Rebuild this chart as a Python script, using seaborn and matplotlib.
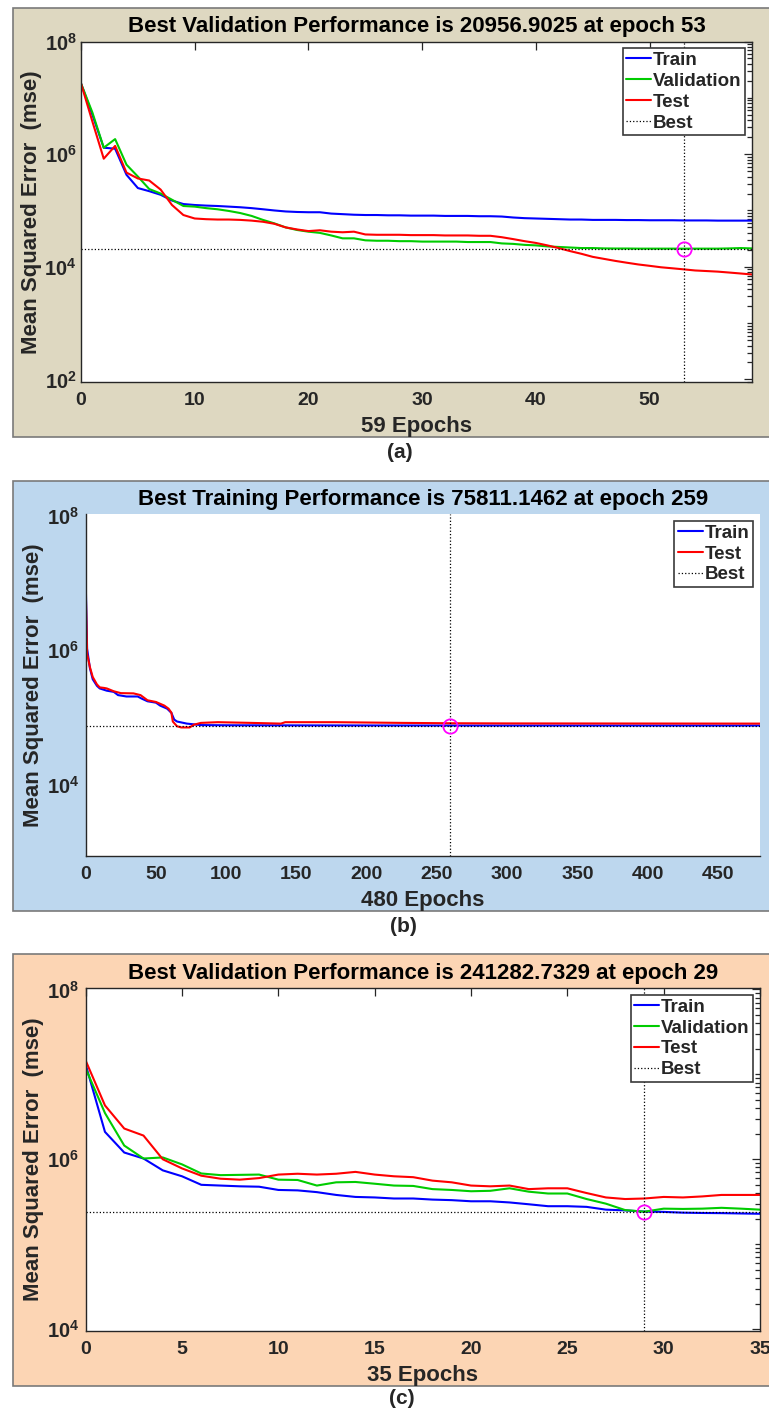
import numpy as np
import matplotlib
matplotlib.use("Agg")
import matplotlib.pyplot as plt
import seaborn as sns
from matplotlib.patches import Rectangle
from matplotlib.lines import Line2D
from matplotlib.ticker import FixedLocator, FuncFormatter, NullFormatter

sns.set_style("white")
plt.rcParams["font.family"] = ["Liberation Sans", "DejaVu Sans"]
plt.rcParams["font.weight"] = "bold"
plt.rcParams["mathtext.fontset"] = "custom"
plt.rcParams["mathtext.rm"] = "Liberation Sans:bold"
plt.rcParams["mathtext.bf"] = "Liberation Sans:bold"
plt.rcParams["mathtext.it"] = "Liberation Sans:bold"

# ---------------- panel (a): 59 epochs, validation stop ----------------
a_epochs = list(range(60))
a_train = [1.8e7, 5.0e6, 1.3e6, 1.25e6, 4.3e5, 2.5e5, 2.2e5, 1.9e5, 1.5e5, 1.3e5,
           1.25e5, 1.22e5, 1.2e5, 1.17e5, 1.14e5, 1.1e5, 1.05e5, 1.0e5, 9.6e4, 9.4e4,
           9.3e4, 9.3e4, 8.8e4, 8.6e4, 8.4e4, 8.3e4, 8.3e4, 8.2e4, 8.2e4, 8.1e4,
           8.1e4, 8.1e4, 8.0e4, 8.0e4, 8.0e4, 7.9e4, 7.9e4, 7.8e4, 7.5e4, 7.3e4,
           7.2e4, 7.1e4, 7.0e4, 6.9e4, 6.9e4, 6.8e4, 6.8e4, 6.8e4, 6.75e4, 6.75e4,
           6.7e4, 6.7e4, 6.7e4, 6.65e4, 6.65e4, 6.65e4, 6.6e4, 6.6e4, 6.6e4, 6.6e4]
a_valid = [1.8e7, 5.5e6, 1.3e6, 1.85e6, 6.5e5, 4.0e5, 2.4e5, 2.0e5, 1.55e5, 1.2e5,
           1.17e5, 1.1e5, 1.05e5, 9.8e4, 9.0e4, 8.0e4, 6.8e4, 5.9e4, 5.0e4, 4.5e4,
           4.2e4, 4.0e4, 3.6e4, 3.2e4, 3.2e4, 2.95e4, 2.9e4, 2.9e4, 2.85e4, 2.85e4,
           2.8e4, 2.8e4, 2.8e4, 2.8e4, 2.75e4, 2.75e4, 2.75e4, 2.6e4, 2.55e4, 2.45e4,
           2.4e4, 2.3e4, 2.25e4, 2.2e4, 2.15e4, 2.15e4, 2.12e4, 2.11e4, 2.11e4, 2.1e4,
           2.1e4, 2.1e4, 2.1e4, 20956.9025, 2.1e4, 2.1e4, 2.1e4, 2.12e4, 2.15e4, 2.12e4]
a_test = [1.8e7, 3.8e6, 8.3e5, 1.4e6, 4.7e5, 3.7e5, 3.4e5, 2.35e5, 1.25e5, 8.3e4,
          7.2e4, 7.0e4, 6.9e4, 6.9e4, 6.8e4, 6.6e4, 6.3e4, 5.8e4, 5.0e4, 4.6e4,
          4.3e4, 4.45e4, 4.2e4, 4.1e4, 4.2e4, 3.75e4, 3.7e4, 3.7e4, 3.7e4, 3.65e4,
          3.65e4, 3.65e4, 3.6e4, 3.6e4, 3.6e4, 3.55e4, 3.55e4, 3.35e4, 3.1e4, 2.85e4,
          2.65e4, 2.4e4, 2.15e4, 1.9e4, 1.7e4, 1.5e4, 1.38e4, 1.27e4, 1.18e4, 1.1e4,
          1.04e4, 9.8e3, 9.4e3, 9.0e3, 8.6e3, 8.4e3, 8.2e3, 7.9e3, 7.6e3, 7.3e3]
a_best_epoch = 53
a_best_value = 20956.9025
a_title = "Best Validation Performance is 20956.9025 at epoch 53"
a_xlabel = "59 Epochs"
a_xticks = [0, 10, 20, 30, 40, 50]
a_yticks = [1e2, 1e4, 1e6, 1e8]

# ---------------- panel (b): 480 epochs, training goal ----------------
b_train_epochs = [0, 1, 3, 5, 8, 10, 15, 20, 23, 29, 37, 40, 44, 50, 53, 58, 61, 63,
                  65, 72, 82, 100, 150, 200, 259, 300, 480]
b_train = [1.07e7, 1.05e6, 5.4e5, 3.7e5, 2.95e5, 2.7e5, 2.5e5, 2.4e5, 2.15e5, 2.05e5,
           2.05e5, 1.9e5, 1.74e5, 1.66e5, 1.5e5, 1.35e5, 1.17e5, 9.3e4, 8.7e4, 8.1e4,
           7.7e4, 7.65e4, 7.62e4, 7.6e4, 75811.1462, 75811.2, 75811.3]
b_test_epochs = [0, 1, 3, 5, 8, 10, 13, 15, 20, 25, 34, 39, 44, 50, 56, 59, 61, 62,
                 65, 68, 74, 77, 82, 94, 118, 139, 142, 178, 225, 259, 300, 480]
b_test = [8.3e6, 8.9e5, 5.6e5, 4.0e5, 3.1e5, 2.8e5, 2.75e5, 2.7e5, 2.45e5, 2.3e5,
          2.28e5, 2.15e5, 1.8e5, 1.7e5, 1.5e5, 1.35e5, 1.18e5, 8.7e4, 7.4e4, 7.1e4,
          7.1e4, 7.8e4, 8.3e4, 8.5e4, 8.3e4, 8.1e4, 8.5e4, 8.5e4, 8.3e4, 8.2e4,
          8.15e4, 8.1e4]
b_best_epoch = 259
b_best_value = 75811.1462
b_title = "Best Training Performance is 75811.1462 at epoch 259"
b_xlabel = "480 Epochs"
b_xticks = [0, 50, 100, 150, 200, 250, 300, 350, 400, 450]
b_yticks = [1e4, 1e6, 1e8]

# ---------------- panel (c): 35 epochs, validation stop ----------------
c_epochs = list(range(36))
c_train = [1.3e7, 2.1e6, 1.2e6, 1.02e6, 7.4e5, 6.3e5, 5.0e5, 4.9e5, 4.8e5, 4.75e5,
           4.35e5, 4.3e5, 4.1e5, 3.8e5, 3.6e5, 3.55e5, 3.45e5, 3.45e5, 3.35e5, 3.3e5,
           3.2e5, 3.2e5, 3.1e5, 2.95e5, 2.8e5, 2.8e5, 2.75e5, 2.55e5, 2.5e5, 2.42e5,
           2.4e5, 2.35e5, 2.33e5, 2.32e5, 2.3e5, 2.28e5]
c_valid = [1.17e7, 3.5e6, 1.45e6, 1.02e6, 1.05e6, 8.7e5, 6.8e5, 6.5e5, 6.55e5, 6.6e5,
           5.75e5, 5.7e5, 4.9e5, 5.35e5, 5.4e5, 5.15e5, 4.9e5, 4.85e5, 4.45e5, 4.35e5,
           4.2e5, 4.25e5, 4.55e5, 4.15e5, 3.95e5, 3.95e5, 3.4e5, 3.0e5, 2.52e5, 241282.7329,
           2.62e5, 2.6e5, 2.62e5, 2.68e5, 2.62e5, 2.55e5]
c_test = [1.45e7, 4.3e6, 2.3e6, 1.9e6, 1.0e6, 7.8e5, 6.4e5, 5.9e5, 5.75e5, 6.0e5,
          6.6e5, 6.75e5, 6.6e5, 6.75e5, 7.1e5, 6.6e5, 6.3e5, 6.15e5, 5.6e5, 5.35e5,
          4.9e5, 4.8e5, 4.9e5, 4.45e5, 4.55e5, 4.55e5, 4.0e5, 3.55e5, 3.4e5, 3.45e5,
          3.6e5, 3.55e5, 3.65e5, 3.8e5, 3.8e5, 3.8e5]
c_best_epoch = 29
c_best_value = 241282.7329
c_title = "Best Validation Performance is 241282.7329 at epoch 29"
c_xlabel = "35 Epochs"
c_xticks = [0, 5, 10, 15, 20, 25, 30, 35]
c_yticks = [1e4, 1e6, 1e8]

series_colors = {"Train": "#0000ff", "Validation": "#00cc00", "Test": "#ff0000"}
ink = "#262626"

W, H = 769, 1409
fig = plt.figure(figsize=(W / 100, H / 100), dpi=100)


def fx(px):
    return px / W


def fy(py):
    return 1 - py / H


def panel_background(top, bottom, color):
    fig.patches.append(Rectangle((fx(13), fy(bottom)), fx(W + 20 - 13), (bottom - top) / H,
                                 transform=fig.transFigure, facecolor=color,
                                 edgecolor="#7a7a7a", linewidth=1.2, zorder=-5))


def log_axis_ticks(ax, ylim, majors):
    lo, hi = int(np.floor(np.log10(ylim[0]))), int(np.ceil(np.log10(ylim[1])))
    minors = [m * 10.0 ** k for k in range(lo, hi + 1) for m in range(1, 10)]
    minors = [v for v in minors if ylim[0] <= v <= ylim[1] and v not in majors]
    ax.yaxis.set_major_locator(FixedLocator(majors))
    ax.yaxis.set_minor_locator(FixedLocator(minors))
    ax.yaxis.set_major_formatter(
        FuncFormatter(lambda v, p: r"$\mathbf{10^{%d}}$" % int(round(np.log10(v)))))
    ax.yaxis.set_minor_formatter(NullFormatter())


def draw_panel(rect, curves, best_epoch, best_value, title, xlabel, xticks, xmax,
               yticks, ylim, boxed, ypad):
    ax = fig.add_axes(rect)
    ax.set_zorder(1)
    ax.set_facecolor("white")
    ax.set_yscale("log")
    for name, xs, ys in curves:
        sns.lineplot(x=xs, y=ys, ax=ax, color=series_colors[name], linewidth=1.5,
                     estimator=None, sort=False, label=name, legend=False)
    ax.axhline(best_value, color="black", linestyle=":", linewidth=0.9)
    ax.axvline(best_epoch, color="black", linestyle=":", linewidth=0.9)
    ax.plot([best_epoch], [best_value], marker="o", markersize=10.3,
            markerfacecolor="none", markeredgecolor="#ff00ff", markeredgewidth=1.3)
    ax.set_xlim(0, xmax)
    ax.set_ylim(*ylim)
    ax.set_xticks(xticks)
    ax.set_xticklabels([str(t) for t in xticks])
    log_axis_ticks(ax, ylim, yticks)
    ax.tick_params(which="both", direction="in", colors=ink, labelcolor=ink,
                   top=boxed, right=boxed, width=0.9)
    ax.tick_params(which="major", length=6)
    ax.tick_params(axis="x", which="major", labelsize=14, pad=7.5)
    ax.tick_params(axis="y", which="major", labelsize=14.5, pad=ypad)
    ax.tick_params(which="minor", length=3.5)
    for side, sp in ax.spines.items():
        sp.set_color(ink)
        sp.set_linewidth(1.0)
        if side in ("top", "right"):
            sp.set_visible(boxed)
    ax.set_title(title, fontsize=16, fontweight="bold", color="black", pad=6.6)
    ax.set_xlabel(xlabel, fontsize=16, fontweight="bold", color=ink, labelpad=4.5)
    ax.set_ylabel("Mean Squared Error  (mse)", fontsize=16, fontweight="bold",
                  color=ink, labelpad=2)
    handles = [Line2D([], [], color=series_colors[n], linewidth=1.5) for n, _, _ in curves]
    labels = [n for n, _, _ in curves]
    handles.append(Line2D([], [], color="black", linestyle=":", linewidth=0.9))
    labels.append("Best")
    leg = ax.legend(handles, labels, loc="upper right", frameon=True, fancybox=False,
                    framealpha=1, edgecolor="#3a3a3a", borderaxespad=0.35,
                    handlelength=1.33, handletextpad=0.1, borderpad=0.2,
                    labelspacing=0.2, prop={"weight": "bold", "size": 13.5})
    leg.get_frame().set_linewidth(1.2)
    return ax


# (a)
panel_background(7.5, 436.7, "#ded8c1")
draw_panel([fx(81), fy(382), fx(752 - 81), (382 - 41.5) / H],
           [("Train", a_epochs, a_train), ("Validation", a_epochs, a_valid),
            ("Test", a_epochs, a_test)],
           a_best_epoch, a_best_value, a_title, a_xlabel, a_xticks, 59,
           a_yticks, (90, 1.0e8), True, 3.0)
fig.text(fx(400), fy(452), "(a)", ha="center", va="center", fontsize=15, fontweight="bold")

# (b)
panel_background(480.7, 911, "#bdd7ee")
draw_panel([fx(85.7), fy(856), fx(760 - 85.7), (856 - 514.3) / H],
           [("Train", b_train_epochs, b_train), ("Test", b_test_epochs, b_test)],
           b_best_epoch, b_best_value, b_title, b_xlabel, b_xticks, 480,
           b_yticks, (870, 1.05e8), False, 4.5)
fig.text(fx(403), fy(927), "(b)", ha="center", va="center", fontsize=15, fontweight="bold")

# (c)
panel_background(954.3, 1385.7, "#fcd5b4")
draw_panel([fx(85.7), fy(1331), fx(760 - 85.7), (1331 - 988.3) / H],
           [("Train", c_epochs, c_train), ("Validation", c_epochs, c_valid),
            ("Test", c_epochs, c_test)],
           c_best_epoch, c_best_value, c_title, c_xlabel, c_xticks, 35,
           c_yticks, (9.5e3, 1.03e8), True, 4.5)
fig.text(fx(402), fy(1399), "(c)", ha="center", va="center", fontsize=15, fontweight="bold")

fig.savefig("out.png", dpi=100)
